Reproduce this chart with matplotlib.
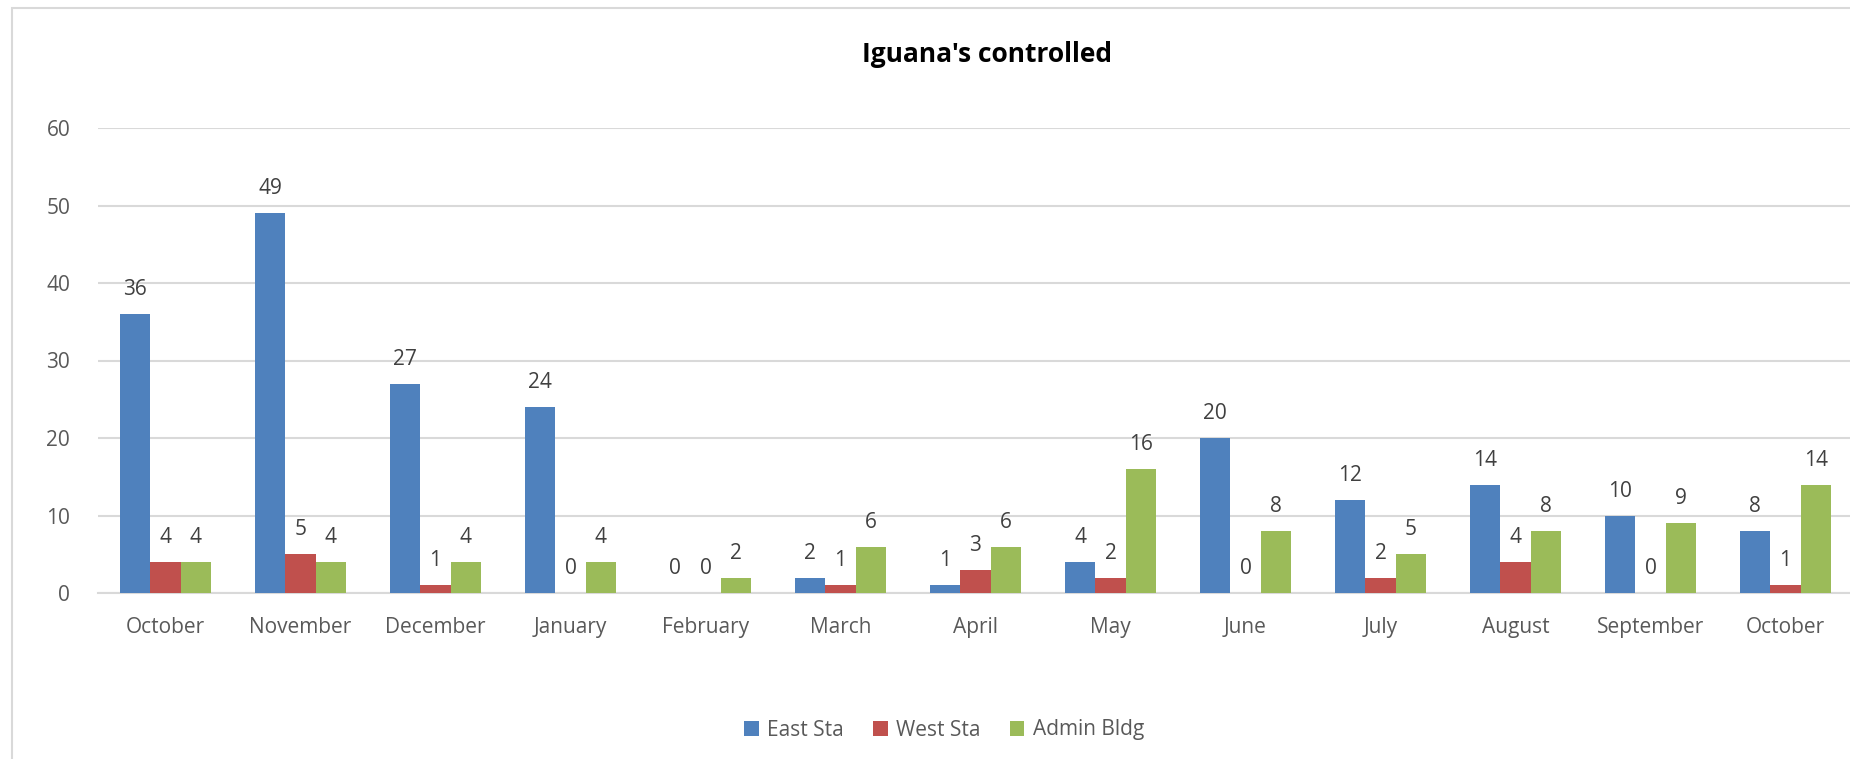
import numpy as np
import matplotlib
matplotlib.use("Agg")
import matplotlib.pyplot as plt
from matplotlib.patches import Rectangle

# data
months = ["October", "November", "December", "January", "February", "March",
          "April", "May", "June", "July", "August", "September", "October"]
east_sta = [36, 49, 27, 24, 0, 2, 1, 4, 20, 12, 14, 10, 8]
west_sta = [4, 5, 1, 0, 0, 1, 3, 2, 0, 2, 4, 0, 1]
admin_bldg = [4, 4, 4, 4, 2, 6, 6, 16, 8, 5, 8, 9, 14]

series = [("East Sta", east_sta, "#4F81BD"),
          ("West Sta", west_sta, "#C0504D"),
          ("Admin Bldg", admin_bldg, "#9BBB59")]

plt.rcParams['font.family'] = ['Open Sans', 'DejaVu Sans']
txt_col = "#595959"

fig = plt.figure(figsize=(18.5, 7.59), dpi=100)
# chart border (cut off on right / bottom like the original)
fig.patches.append(Rectangle((12 / 1850, -0.1), 1.2, 1 - 8 / 759 + 0.1,
                             transform=fig.transFigure, fill=False,
                             edgecolor="#D9D9D9", linewidth=1.5))

ax = fig.add_axes([98 / 1850, 1 - 593 / 759, 1755 / 1850, 465 / 759])

x = np.arange(len(months))
w = 0.225
for i, (name, vals, col) in enumerate(series):
    pos = x + (i - 1) * w
    ax.bar(pos, vals, w, color=col, label=name, zorder=3)
    for p, v in zip(pos, vals):
        ax.annotate(str(v), (p, v), xytext=(0, 10), textcoords="offset points",
                    ha="center", va="bottom", fontsize=15, color="#404040")

ax.set_xlim(-0.5, len(months) - 0.5)
ax.set_ylim(0, 60)
ax.set_yticks(range(0, 61, 10))
ax.yaxis.grid(True, color="#D9D9D9", linewidth=1.5, zorder=0)
ax.set_xticks(x)
ax.set_xticklabels(months)
ax.tick_params(axis="both", length=0, labelsize=15, labelcolor=txt_col)
ax.tick_params(axis="x", pad=17)
ax.tick_params(axis="y", pad=20)
for s in ["top", "right", "left"]:
    ax.spines[s].set_visible(False)
ax.spines["bottom"].set_color("#D9D9D9")
ax.spines["bottom"].set_linewidth(1.5)

fig.text(987 / 1850, 1 - 55 / 759, "Iguana's controlled", ha="center",
         va="center", fontsize=19, fontweight="bold", color="black")

fig.legend(loc="center", bbox_to_anchor=(944 / 1850, 1 - 730 / 759), ncol=3,
           frameon=False, fontsize=15, handlelength=0.7, handleheight=0.7,
           columnspacing=1.4, handletextpad=0.4, labelcolor=txt_col)

fig.savefig("out.png", dpi=100)
